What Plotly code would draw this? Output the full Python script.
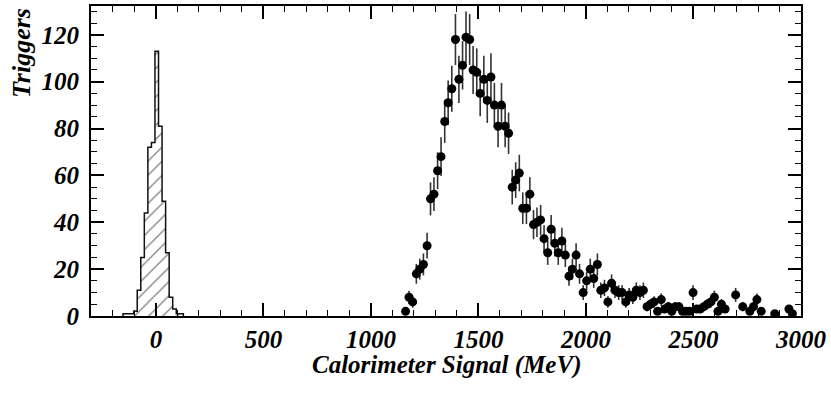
import math
import plotly.graph_objects as go

# Pedestal histogram (hatched): bin edges (MeV) and counts
ped_edges = [-153, -136.5, -120, -103.5, -87, -70.5, -54, -37.5, -21, -4.5, 12,
             28.5, 45, 61.5, 78, 94.5, 111, 127.5]
ped_counts = [1, 1, 1, 2, 11, 25, 44, 72, 74, 113, 81, 49, 27, 8, 3, 1, 1]

# Signal data points (MeV, triggers)
sig_x = [1161, 1177, 1194, 1211, 1227, 1244, 1261, 1277, 1293, 1310, 1326, 1343,
         1359, 1376, 1393, 1409, 1426, 1442, 1459, 1475, 1492, 1508, 1525, 1541,
         1558, 1574, 1591, 1607, 1624, 1640, 1657, 1673, 1690, 1706, 1723, 1739,
         1756, 1772, 1789, 1805, 1822, 1838, 1855, 1871, 1888, 1904, 1921, 1937,
         1954, 1970, 1987, 2003, 2020, 2036, 2053, 2069, 2086, 2102, 2119, 2135,
         2152, 2168, 2185, 2201, 2218, 2234, 2251, 2267, 2284, 2300, 2317, 2333,
         2350, 2366, 2383, 2399, 2416, 2432, 2449, 2465, 2482, 2498, 2515, 2531,
         2548, 2564, 2581, 2597, 2614, 2630, 2647, 2696, 2729, 2762, 2779, 2795,
         2815, 2878, 2944, 2960]
sig_y = [2, 8, 6, 18, 20, 22, 30, 50, 52, 62, 68, 83,
         91, 97, 118, 101, 107, 119, 118, 105, 104, 95, 101, 92,
         102, 90, 81, 90, 81, 78, 55, 58, 61, 46, 46, 52,
         39, 40, 41, 33, 27, 37, 31, 27, 32, 26, 17, 20,
         26, 18, 10, 15, 20, 16, 22, 11, 12, 6, 14, 11,
         10, 10, 6, 9, 8, 11, 10, 11, 4, 5, 6, 2,
         7, 3, 4, 2, 4, 4, 2, 2, 2, 10, 3, 3,
         4, 5, 6, 8, 2, 5, 3, 9, 4, 2, 4, 7,
         2, 1, 3, 1]
sig_err = [math.sqrt(v) for v in sig_y]

x_ticks = [0, 500, 1000, 1500, 2000, 2500, 3000]
y_ticks = [0, 20, 40, 60, 80, 100, 120]

# step outline for histogram
hx = [ped_edges[0]]
hy = [0]
for e, c in zip(ped_edges[:-1], ped_counts):
    hx.append(e)
    hy.append(c)
hx.append(ped_edges[-1])
hy.append(0)

FONT = "Liberation Serif"

fig = go.Figure()
fig.add_trace(go.Scatter(
    x=hx, y=hy, mode="lines", line=dict(shape="hv", color="#111", width=1.5),
    fill="tozeroy", fillcolor="rgba(0,0,0,0)",
    fillpattern=dict(shape="/", fgcolor="black", bgcolor="white", size=10, solidity=0.13),
    showlegend=False, hoverinfo="skip"))
fig.add_trace(go.Scatter(
    x=sig_x, y=sig_y, mode="markers",
    marker=dict(color="black", size=9, symbol="circle"),
    error_y=dict(type="data", array=sig_err, visible=True, thickness=1.6,
                 width=0, color="#333"),
    showlegend=False))

tickfont = dict(family=FONT, size=25, color="black", weight="bold", style="italic")
fig.update_layout(
    width=831, height=396,
    margin=dict(l=91, r=29, t=4, b=80),
    paper_bgcolor="white", plot_bgcolor="white",
    xaxis=dict(range=[-302, 3000], tickvals=x_ticks, ticktext=[str(v) for v in x_ticks],
               ticks="inside", ticklen=13, tickwidth=1.6, tickcolor="black",
               minor=dict(dtick=100, tick0=0, ticks="inside", ticklen=6,
                          tickwidth=1.3, tickcolor="black"),
               showline=True, linecolor="black", linewidth=2, mirror="allticks",
               showgrid=False, zeroline=False, tickfont=tickfont, ticklabelstandoff=0),
    yaxis=dict(range=[0, 132.3], tickvals=y_ticks, ticktext=[str(v) for v in y_ticks],
               ticks="inside", ticklen=13, tickwidth=1.6, tickcolor="black",
               minor=dict(dtick=5, tick0=0, ticks="inside", ticklen=6,
                          tickwidth=1.3, tickcolor="black"),
               showline=True, linecolor="black", linewidth=2, mirror="allticks",
               showgrid=False, zeroline=False, tickfont=tickfont, ticklabelstandoff=5),
    annotations=[
        dict(text="Calorimeter Signal (MeV)", xref="paper", yref="paper",
             x=0.5, y=-0.158, xanchor="center", yanchor="middle", showarrow=False,
             font=dict(family=FONT, size=25, color="black", weight="bold", style="italic")),
        dict(text="Triggers", xref="paper", yref="paper", textangle=-90,
             x=-0.0985, y=1.0, xanchor="center", yanchor="top", showarrow=False,
             font=dict(family=FONT, size=26, color="black", weight="bold", style="italic")),
    ],
)

fig.write_html("out.html")
